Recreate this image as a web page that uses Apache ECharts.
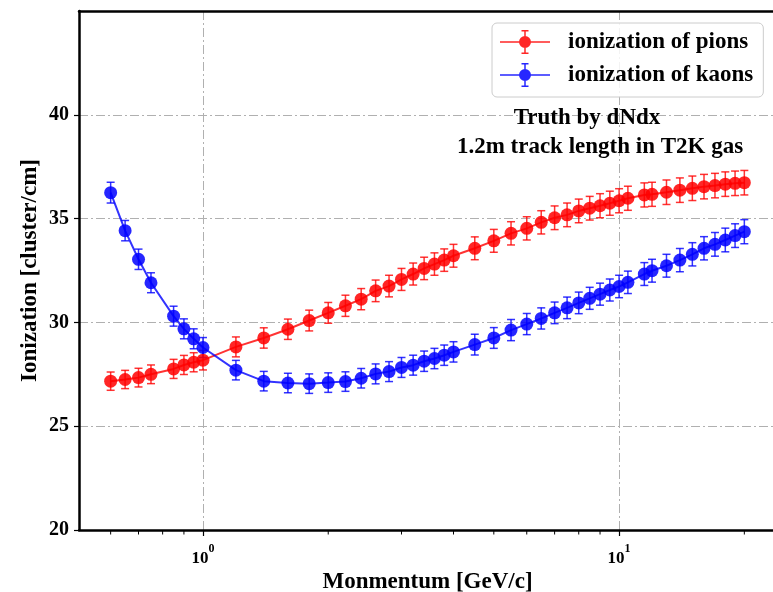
<!DOCTYPE html>
<html><head><meta charset="utf-8">
<script src="https://cdn.jsdelivr.net/npm/echarts@6/dist/echarts.min.js"></script>
<style>html,body{margin:0;padding:0;background:#fff}#c{width:773px;height:592px}</style>
</head><body><div id="c"></div>
<script>
const momentum = [0.6,0.65,0.7,0.75,0.85,0.9,0.95,1.0,1.2,1.4,1.6,1.8,2.0,2.2,2.4,2.6,2.8,3.0,3.2,3.4,3.6,3.8,4.0,4.5,5.0,5.5,6.0,6.5,7.0,7.5,8.0,8.5,9.0,9.5,10,10.5,11.5,12,13,14,15,16,17,18,19,20];
const pions = [27.17,27.25,27.34,27.50,27.76,27.95,28.08,28.18,28.82,29.25,29.67,30.09,30.46,30.80,31.12,31.52,31.75,32.07,32.33,32.60,32.81,33.00,33.21,33.57,33.93,34.29,34.53,34.82,35.04,35.18,35.37,35.50,35.62,35.74,35.86,35.98,36.14,36.17,36.27,36.37,36.46,36.54,36.59,36.66,36.70,36.73];
const kaons = [36.25,34.42,33.04,31.91,30.30,29.69,29.21,28.79,27.70,27.17,27.08,27.05,27.10,27.15,27.31,27.52,27.63,27.83,27.94,28.13,28.26,28.42,28.58,28.93,29.25,29.63,29.92,30.19,30.46,30.70,30.94,31.16,31.36,31.56,31.73,31.93,32.33,32.49,32.73,33.00,33.28,33.57,33.76,33.97,34.18,34.37];
const pionErr = [0.44,0.44,0.45,0.45,0.46,0.46,0.46,0.47,0.48,0.49,0.49,0.50,0.50,0.51,0.51,0.52,0.52,0.53,0.53,0.54,0.54,0.54,0.55,0.55,0.55,0.56,0.56,0.56,0.57,0.57,0.57,0.57,0.58,0.58,0.58,0.58,0.58,0.58,0.59,0.59,0.59,0.59,0.59,0.59,0.59,0.59];
const kaonErr = [0.50,0.49,0.49,0.48,0.48,0.48,0.48,0.48,0.47,0.47,0.47,0.47,0.47,0.47,0.47,0.48,0.48,0.48,0.48,0.49,0.49,0.49,0.49,0.50,0.50,0.51,0.51,0.51,0.52,0.52,0.52,0.53,0.53,0.53,0.54,0.54,0.55,0.55,0.55,0.56,0.56,0.56,0.57,0.57,0.57,0.58];
const xMajorTicks = [1, 10];
const xMinorTicks = [0.6,0.7,0.8,0.9,2,3,4,5,6,7,8,9,20];
const yTicks = [20,25,30,35,40];
const legendNames = ['ionization of pions','ionization of kaons'];
const noteLines = ['Truth by dNdx','1.2m track length in T2K gas'];
const xTitle = 'Monmentum [GeV/c]';
const yTitle = 'Ionization [cluster/cm]';

const FONT = '"Liberation Serif","Times New Roman",serif';
const RED = '#ff0000', BLUE = '#0000ff';
const ICON = 'path://M0 11.25 L50 11.25 L50 12.75 L0 12.75 Z M24.25 0 L25.75 0 L25.75 24 L24.25 24 Z M21.5 0 L28.5 0 L28.5 1.5 L21.5 1.5 Z M21.5 22.5 L28.5 22.5 L28.5 24 L21.5 24 Z M19 12 A6 6 0 1 1 31 12 A6 6 0 1 1 19 12 Z';

const chart = echarts.init(document.getElementById('c'), null, {renderer:'canvas'});

function errData(vals, errs){ return momentum.map((x,i)=>[x, vals[i]-errs[i], vals[i]+errs[i]]); }
function errRender(color){
  return function(params, api){
    const x = api.value(0);
    const lo = api.coord([x, api.value(1)]);
    const hi = api.coord([x, api.value(2)]);
    const hw = 4;
    const style = {stroke: color, lineWidth: 1.5, opacity: 0.8};
    return {type:'group', children:[
      {type:'line', shape:{x1:lo[0],y1:lo[1],x2:hi[0],y2:hi[1]}, style},
      {type:'line', shape:{x1:lo[0]-hw,y1:lo[1],x2:lo[0]+hw,y2:lo[1]}, style},
      {type:'line', shape:{x1:hi[0]-hw,y1:hi[1],x2:hi[0]+hw,y2:hi[1]}, style}
    ]};
  };
}
const gridLine = {show:true, lineStyle:{color:'#b0b0b0', width:1, type:[9,3,2,3]}};

chart.setOption({
  animation:false,
  backgroundColor:'#fff',
  grid:{left:79, top:11, width:697, height:519, containLabel:false, outerBoundsMode:'none'},
  xAxis:[{
    type:'log', logBase:10, min:0.5036, max:23.83,
    name:xTitle, nameLocation:'middle', nameGap:41, nameMoveOverlap:false,
    nameTextStyle:{fontFamily:FONT, fontWeight:'bold', fontSize:23, color:'#000'},
    axisLine:{show:true, lineStyle:{color:'#000', width:2.5}},
    axisTick:{show:true, inside:false, length:6, customValues:xMajorTicks, lineStyle:{color:'#000', width:1.2}},
    axisLabel:{show:true, margin:13, customValues:xMajorTicks,
      formatter:function(v){ return '{b|10}{s|' + Math.round(Math.log10(v)) + '}'; },
      rich:{b:{fontFamily:FONT, fontWeight:'bold', fontSize:17, color:'#000', lineHeight:24, verticalAlign:'bottom'},
            s:{fontFamily:FONT, fontWeight:'bold', fontSize:12, color:'#000', lineHeight:24, verticalAlign:'top'}}},
    splitLine:gridLine, minorTick:{show:false}
  },{
    type:'value', position:'top', min:0, max:1,
    axisLine:{show:true, lineStyle:{color:'#000', width:2.5}},
    axisTick:{show:false}, axisLabel:{show:false}, splitLine:{show:false}
  }],
  yAxis:{
    type:'value', min:20, max:45, interval:5,
    name:yTitle, nameLocation:'middle', nameGap:37, nameMoveOverlap:false,
    nameTextStyle:{fontFamily:FONT, fontWeight:'bold', fontSize:23, color:'#000'},
    axisLine:{show:true, lineStyle:{color:'#000', width:2.5}},
    axisTick:{show:true, inside:false, length:5, customValues:yTicks, lineStyle:{color:'#000', width:1.2}},
    axisLabel:{show:true, margin:10, customValues:yTicks, fontFamily:FONT, fontWeight:'bold', fontSize:20, color:'#000'},
    splitLine:gridLine
  },
  legend:{
    left:492, top:23, orient:'vertical', itemWidth:50, itemHeight:24, itemGap:9,
    padding:[7,10,10,8], borderColor:'#cccccc', borderWidth:1, borderRadius:5,
    backgroundColor:'rgba(255,255,255,0.85)', selectedMode:false,
    textStyle:{fontFamily:FONT, fontWeight:'bold', fontSize:23, color:'#000', padding:[0,0,0,13]},
    data:legendNames.map(n=>({name:n, icon:ICON}))
  },
  graphic:[
    {type:'text', x:587, y:118, z:100, style:{text:noteLines[0], fontFamily:FONT, fontWeight:'bold', fontSize:23, fill:'#000', align:'center', verticalAlign:'middle'}},
    {type:'text', x:600, y:147, z:100, style:{text:noteLines[1], fontFamily:FONT, fontWeight:'bold', fontSize:23, fill:'#000', align:'center', verticalAlign:'middle'}}
  ],
  series:[
    {type:'custom', name:'pionErr', xAxisIndex:0, z:2, clip:false, silent:true,
     data:errData(pions, pionErr), renderItem:errRender(RED), encode:{x:0, y:[1,2]}},
    {type:'custom', name:'kaonErr', xAxisIndex:0, z:2, clip:false, silent:true,
     data:errData(kaons, kaonErr), renderItem:errRender(BLUE), encode:{x:0, y:[1,2]}},
    {type:'line', name:legendNames[0], xAxisIndex:0, z:3,
     data:momentum.map((x,i)=>[x, pions[i]]), symbol:'circle', symbolSize:13,
     itemStyle:{color:RED, opacity:0.85}, lineStyle:{color:RED, width:2, opacity:0.8}},
    {type:'line', name:legendNames[1], xAxisIndex:0, z:3,
     data:momentum.map((x,i)=>[x, kaons[i]]), symbol:'circle', symbolSize:13,
     itemStyle:{color:BLUE, opacity:0.85}, lineStyle:{color:BLUE, width:2, opacity:0.8}},
    {type:'custom', name:'minorTicks', xAxisIndex:0, z:5, clip:false, silent:true,
     data:xMinorTicks.map(v=>[v, 20]),
     renderItem:function(params, api){
       const p = api.coord([api.value(0), api.value(1)]);
       return {type:'line', shape:{x1:p[0], y1:p[1]+1, x2:p[0], y2:p[1]+4.5}, style:{stroke:'#000', lineWidth:1}};
     }, encode:{x:0, y:1}}
  ]
});
</script></body></html>
